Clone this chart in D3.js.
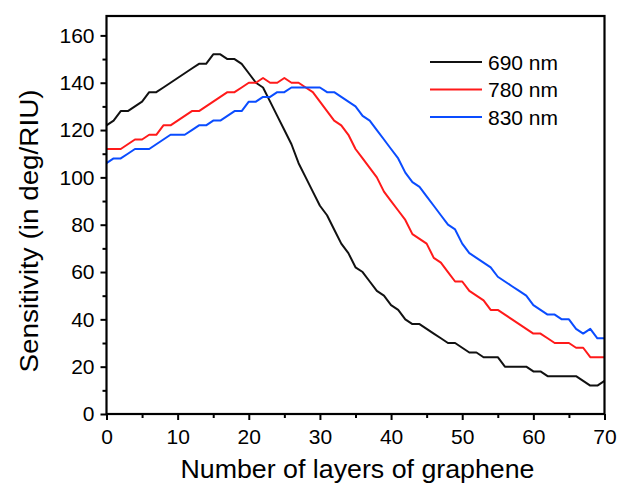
<!DOCTYPE html>
<html><head><meta charset="utf-8">
<script src="https://cdn.jsdelivr.net/npm/d3@7"></script>
<style>body{margin:0;background:#fff}svg{display:block}text{font-family:Arial,"Liberation Sans",sans-serif}</style>
</head><body><svg id="c" width="619" height="485"></svg>
<script>
const layers = d3.range(0, 71);
const s690 = [122,124,128,128,130,132,136,136,138,140,142,144,146,148,148,152,152,150,150,148,
  144,140,138,132,126,120,114,106,100,94,88,84,78,72,68,62,60,56,52,50,
  46,44,40,38,38,36,34,32,30,30,28,26,26,24,24,24,20,20,20,20,
  18,18,16,16,16,16,16,14,12,12,14];
const s780 = [112,112,112,114,116,116,118,118,122,122,124,126,128,128,130,132,134,136,136,138,
  140,140,142,140,140,142,140,140,138,136,132,128,124,122,118,112,108,104,100,94,
  90,86,82,76,74,72,66,64,60,56,56,52,50,48,44,44,42,40,38,36,
  34,34,32,30,30,30,28,28,24,24,24];
const s830 = [106,108,108,110,112,112,112,114,116,118,118,118,120,122,122,124,124,126,128,128,
  132,132,134,134,136,136,138,138,138,138,138,136,136,134,132,130,126,124,120,116,
  112,108,102,98,96,92,88,84,80,78,72,68,66,64,62,58,56,54,52,50,
  46,44,42,42,40,40,36,34,36,32,32];
const seriesNames = ["690 nm","780 nm","830 nm"];
const seriesColors = ["#111111","#ff1a1a","#0a4cff"];
const xTicks = [0,10,20,30,40,50,60,70];
const yTicks = [0,20,40,60,80,100,120,140,160];
const xMinor = [5,15,25,35,45,55,65];
const yMinor = [10,30,50,70,90,110,130,150];

const svg = d3.select("#c");
const L=106.5, R=604.5, T=16, B=414;
const x = d3.scaleLinear().domain([0,70]).range([L,R]);
const y = d3.scaleLinear().domain([0,168.2]).range([B,T]);

const data = [s690,s780,s830];
const line = d3.line().x((d,i)=>x(layers[i])).y(d=>y(d));
data.forEach((s,k)=>{
  svg.append("path").attr("d",line(s)).attr("fill","none")
    .attr("stroke",seriesColors[k]).attr("stroke-width",2).attr("stroke-linejoin","round");
});

// frame
svg.append("rect").attr("x",L).attr("y",T).attr("width",R-L).attr("height",B-T)
  .attr("fill","none").attr("stroke","#000").attr("stroke-width",2.2);

const xa = svg.append("g").attr("transform",`translate(0,${B})`)
  .call(d3.axisBottom(x).tickValues(xTicks).tickSize(6).tickPadding(9).tickFormat(d3.format("d")));
const xm = svg.append("g").attr("transform",`translate(0,${B})`)
  .call(d3.axisBottom(x).tickValues(xMinor).tickSize(4).tickFormat(""));
const ya = svg.append("g").attr("transform",`translate(${L},0)`)
  .call(d3.axisLeft(y).tickValues(yTicks).tickSize(6).tickPadding(6).tickFormat(d3.format("d")));
const ym = svg.append("g").attr("transform",`translate(${L},0)`)
  .call(d3.axisLeft(y).tickValues(yMinor).tickSize(4).tickFormat(""));
[xa,xm,ya,ym].forEach(g=>{
  g.select(".domain").remove();
  g.selectAll("line").attr("stroke","#000").attr("stroke-width",2);
  g.selectAll("text").attr("fill","#000").style("font-size","21px").style("font-family","Arial, 'Liberation Sans', sans-serif");
});
xa.selectAll("text").attr("dy","0.71em");

svg.append("text").attr("x",(L+R)/2+2).attr("y",478).attr("text-anchor","middle")
  .style("font-size","25px").attr("textLength",354).attr("lengthAdjust","spacingAndGlyphs")
  .text("Number of layers of graphene");
svg.append("text").attr("transform","translate(38,231) rotate(-90)").attr("text-anchor","middle")
  .style("font-size","25px").attr("textLength",283).attr("lengthAdjust","spacingAndGlyphs")
  .text("Sensitivity (in deg/RIU)");

// legend
const legY = [62,89.5,117];
seriesNames.forEach((n,k)=>{
  svg.append("line").attr("x1",430).attr("x2",482).attr("y1",legY[k]).attr("y2",legY[k])
    .attr("stroke",seriesColors[k]).attr("stroke-width",2);
  svg.append("text").attr("x",488).attr("y",legY[k]).attr("dy","0.36em")
    .style("font-size","21px").text(n);
});
</script></body></html>
